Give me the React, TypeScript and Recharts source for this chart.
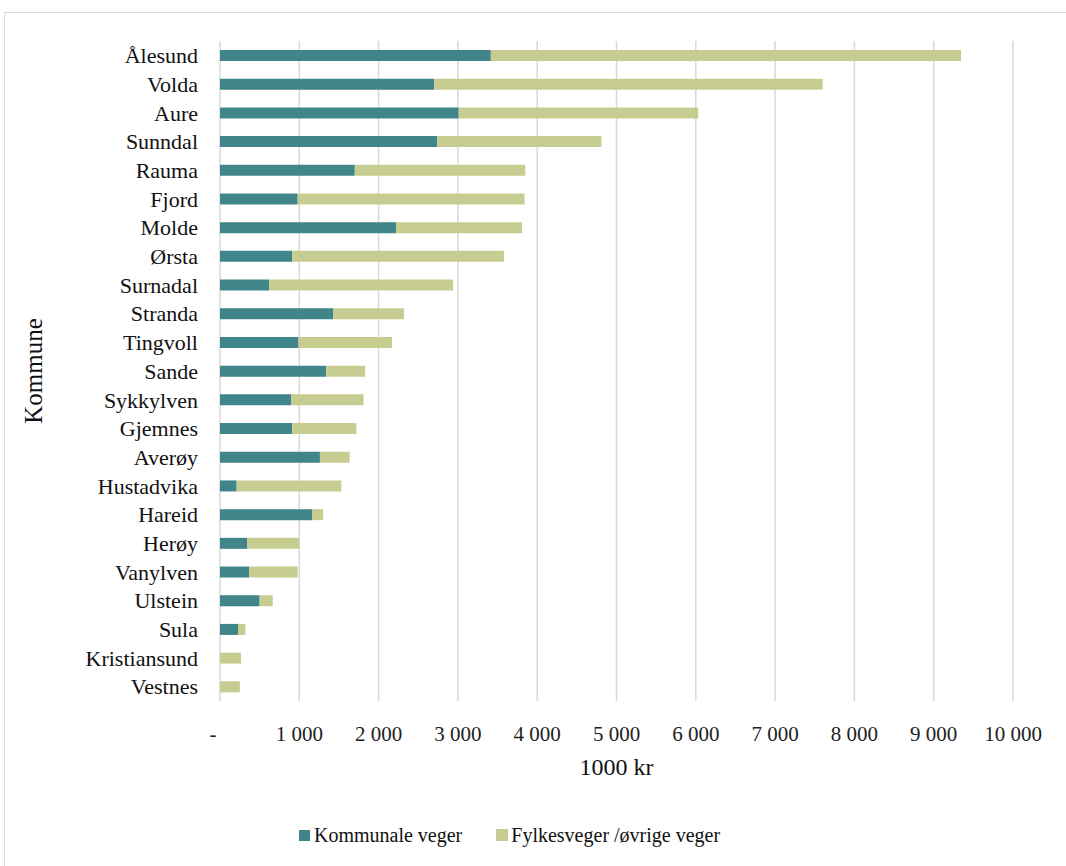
import React from 'react';
import { BarChart, Bar, XAxis, YAxis, CartesianGrid } from 'recharts';

const categories = ['Ålesund','Volda','Aure','Sunndal','Rauma','Fjord','Molde','Ørsta','Surnadal','Stranda','Tingvoll','Sande','Sykkylven','Gjemnes','Averøy','Hustadvika','Hareid','Herøy','Vanylven','Ulstein','Sula','Kristiansund','Vestnes'];
const kommunale = [3415,2700,3010,2740,1700,980,2220,910,620,1425,990,1340,900,910,1260,210,1160,345,366,500,227,0,0];
const fylkes = [5930,4900,3020,2070,2150,2860,1590,2670,2320,895,1180,490,910,810,375,1320,140,655,614,165,93,265,250];
const xTicks = [0,1000,2000,3000,4000,5000,6000,7000,8000,9000,10000];
const seriesNames = ['Kommunale veger','Fylkesveger /øvrige veger'];
const colors = ['#3F8589','#C7CD90'];

const data = categories.map((c, i) => ({ name: c, k: kommunale[i], f: fylkes[i] }));
const FONT = '"Liberation Serif", "Times New Roman", serif';

const fmt = (v: number) => (v === 0 ? '-' : String(v).replace(/\B(?=(\d{3})+(?!\d))/g, ' '));

const XTick = (props: any) => {
  const { x, y, payload } = props;
  const v = payload.value;
  return (
    <text x={v === 0 ? x - 7 : x} y={y} dy="0.71em" textAnchor="middle" fill="#222" fontSize={21} fontFamily={FONT}>
      {fmt(v)}
    </text>
  );
};

const YLabel = (props: any) => {
  const vb = props.viewBox;
  const cx = vb.x + 13;
  const cy = vb.y + vb.height / 2;
  return (
    <text x={cx} y={cy} transform={`rotate(-90 ${cx} ${cy})`} textAnchor="middle" dominantBaseline="central" fill="#111" fontSize={25} fontFamily={FONT}>
      Kommune
    </text>
  );
};

export default function App() {
  return (
    <div style={{ position: 'fixed', left: 0, top: 0, width: 1066, height: 866, overflow: 'hidden', background: '#fff', fontFamily: FONT }}>
      <div style={{ position: 'absolute', left: 4, top: 12, width: 1080, height: 900, border: '1px solid #D9D9D9' }} />
      <div style={{ position: 'absolute', left: 0, top: 0 }}>
        <BarChart
          width={1066}
          height={866}
          data={data}
          layout="vertical"
          margin={{ top: 41, right: 53, bottom: 86, left: 20 }}
          barSize={11}
        >
          <CartesianGrid horizontal={false} vertical={true} stroke="#D9D9D9" strokeWidth={1.5} />
          <XAxis
            type="number"
            domain={[0, 10000]}
            ticks={xTicks}
            interval={0}
            axisLine={false}
            tickLine={false}
            tickSize={0}
            tickMargin={25}
            height={79}
            tick={<XTick />}
            label={{ value: '1000 kr', position: 'insideBottom', offset: 5, fontSize: 24, fill: '#111', fontFamily: FONT }}
          />
          <YAxis
            type="category"
            dataKey="name"
            width={200}
            axisLine={false}
            tickLine={false}
            tickSize={0}
            tickMargin={22}
            interval={0}
            tick={{ fontSize: 22, fill: '#111', fontFamily: FONT }}
            label={<YLabel />}
          />
          <Bar dataKey="k" stackId="a" fill={colors[0]} isAnimationActive={false} name={seriesNames[0]} />
          <Bar dataKey="f" stackId="a" fill={colors[1]} isAnimationActive={false} name={seriesNames[1]} />
        </BarChart>
      </div>
      <div style={{ position: 'absolute', left: 299, top: 822, height: 26, display: 'flex', alignItems: 'center', fontSize: 20, color: '#111', whiteSpace: 'nowrap' }}>
        <span style={{ display: 'inline-block', width: 11, height: 11, background: colors[0], marginRight: 4 }} />
        <span>{seriesNames[0]}</span>
        <span style={{ display: 'inline-block', width: 12, height: 12, background: colors[1], marginLeft: 34, marginRight: 3 }} />
        <span>{seriesNames[1]}</span>
      </div>
    </div>
  );
}
